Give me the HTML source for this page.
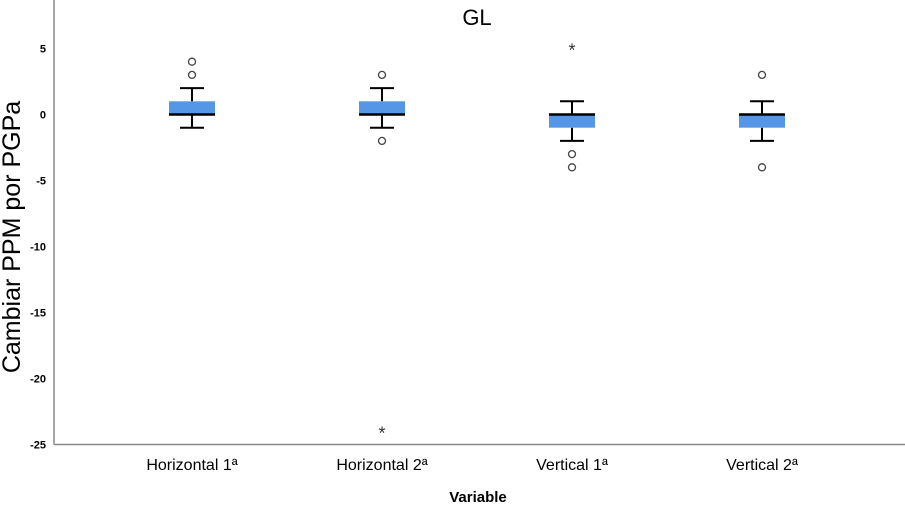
<!DOCTYPE html>
<html><head><meta charset="utf-8"><style>
body{margin:0;background:#fff;}
svg{display:block;font-family:"Liberation Sans",sans-serif;}
</style></head><body>
<svg id="chart" width="905" height="508">
<text x="477" y="25" font-size="22" text-anchor="middle">GL</text>
<text transform="translate(20,237) rotate(-90)" font-size="25" text-anchor="middle">Cambiar PPM por PGPa</text>
<text x="478" y="502" font-size="15" font-weight="bold" text-anchor="middle">Variable</text>
<line x1="54" y1="0" x2="54" y2="444.5" stroke="#888" stroke-width="1.5"/>
<line x1="54" y1="444.5" x2="905" y2="444.5" stroke="#888" stroke-width="1.5"/>
<g id="ticks"></g><g id="boxes"></g>
</svg>
<script>
const categories=["Horizontal 1ª","Horizontal 2ª","Vertical 1ª","Vertical 2ª"];
const q1=[0,0,-1,-1];
const medians=[0,0,0,0];
const q3=[1,1,0,0];
const whiskerLow=[-1,-1,-2,-2];
const whiskerHigh=[2,2,1,1];
const outliers=[[3,4],[3,-2],[-3,-4],[3,-4]];
const extremes=[[],[-24],[5],[]];
const yTicks=[5,0,-5,-10,-15,-20,-25];
const ns="http://www.w3.org/2000/svg";
const y=v=>114.5-v*13.2;
const x=i=>192+i*190;
function mk(tag,attrs,parent){const e=document.createElementNS(ns,tag);for(const k in attrs)e.setAttribute(k,attrs[k]);parent.appendChild(e);return e;}
const tg=document.getElementById('ticks'),bg=document.getElementById('boxes');
yTicks.forEach(t=>{const e=mk('text',{x:46,y:y(t)+4,'font-size':11,'font-weight':'bold','text-anchor':'end'},tg);e.textContent=t;

});
categories.forEach((c,i)=>{
const cx=x(i);
const g=mk('g',{},bg);


const l=mk('text',{x:cx,y:470,'font-size':16,'text-anchor':'middle'},g);l.textContent=c;


mk('line',{x1:cx,x2:cx,y1:y(whiskerHigh[i]),y2:y(q3[i]),stroke:'#000','stroke-width':2},g);
mk('line',{x1:cx,x2:cx,y1:y(q1[i]),y2:y(whiskerLow[i]),stroke:'#000','stroke-width':2},g);
mk('line',{x1:cx-12,x2:cx+12,y1:y(whiskerHigh[i]),y2:y(whiskerHigh[i]),stroke:'#000','stroke-width':2},g);
mk('line',{x1:cx-12,x2:cx+12,y1:y(whiskerLow[i]),y2:y(whiskerLow[i]),stroke:'#000','stroke-width':2},g);
mk('rect',{x:cx-23,y:y(q3[i]),width:46,height:y(q1[i])-y(q3[i]),fill:'#5596e6'},g);
mk('line',{x1:cx-23,x2:cx+23,y1:y(medians[i]),y2:y(medians[i]),stroke:'#000','stroke-width':2.5},g);
outliers[i].forEach(o=>{const p=mk('circle',{cx:cx,cy:y(o),r:3.5,fill:'none',stroke:'#444','stroke-width':1.3},g);

});
extremes[i].forEach(o=>{const s=mk('text',{x:cx,y:y(o)+8,'font-size':18,'text-anchor':'middle',fill:'#333'},g);s.textContent='*';

});
});
</script>
</body></html>
